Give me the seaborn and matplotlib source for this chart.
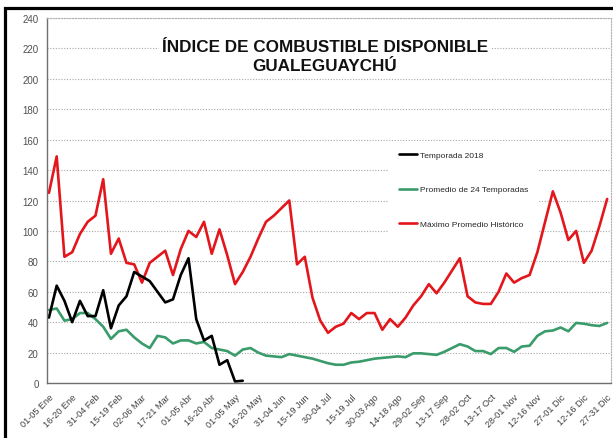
import numpy as np
import pandas as pd
import matplotlib
matplotlib.use("Agg")
import matplotlib.pyplot as plt
import seaborn as sns
from matplotlib.patches import Rectangle

tick_labels = ["01-05 Ene", "16-20 Ene", "31-04 Feb", "15-19 Feb", "02-06 Mar",
               "17-21 Mar", "01-05 Abr", "16-20 Abr", "01-05 May", "16-20 May",
               "31-04 Jun", "15-19 Jun", "30-04 Jul", "15-19 Jul", "30-03 Ago",
               "14-18 Ago", "29-02 Sep", "13-17 Sep", "28-02 Oct", "13-17 Oct",
               "28-01 Nov", "12-16 Nov", "27-01 Dic", "12-16 Dic", "27-31 Dic"]

maximo = [125, 149, 83, 86, 98, 106, 110, 134, 85, 95, 79, 78, 66, 79, 83, 87, 71, 88,
          100, 96, 106, 85, 101, 84, 65, 73, 83, 95, 106, 110, 115, 120, 78, 83, 56, 41,
          33, 37, 39, 46, 42, 46, 46, 35, 42, 37, 43, 51, 57, 65, 59, 66, 74, 82,
          57, 53, 52, 52, 60, 72, 66, 69, 71, 86, 106, 126, 112, 94, 100, 79, 87, 103, 121]

promedio = [48, 49, 41, 42, 46, 46, 42, 37, 29, 34, 35, 30, 26, 23, 31, 30, 26, 28,
            28, 26, 27, 23, 22, 21, 18, 22, 23, 20, 18, 17.5, 17, 19, 18, 17, 16, 14.5,
            13, 12, 12, 13.5, 14, 15, 16, 16.5, 17, 17.5, 17, 19.5, 19.5, 19, 18.5, 20.5, 23, 25.5,
            24, 21, 21, 19, 23, 23, 20.5, 24, 24.5, 31, 34, 34.5, 36.5, 34, 39.5, 39, 38, 37.5, 39.5]

temporada = [43, 64, 54, 40, 54, 44, 44, 61, 36, 51, 57, 73, 70, 67, 60, 53, 55, 71,
             82, 42, 28, 31, 12, 15, 1, 1.5]

series_names = ["Temporada 2018", "Promedio de 24 Temporadas", "Máximo Promedio Histórico"]
colors = {"Temporada 2018": "#000000",
          "Promedio de 24 Temporadas": "#3a9b6b",
          "Máximo Promedio Histórico": "#e3161c"}

n = len(maximo)
idx = np.arange(n)
temp_full = temporada + [np.nan] * (n - len(temporada))

sns.set_style("white")
plt.rcParams["font.family"] = ["Liberation Sans", "DejaVu Sans"]

fig = plt.figure(figsize=(6.13, 4.39), dpi=100)
ax = fig.add_axes([47 / 613, 1 - 384 / 439, 564 / 613, 365 / 439])

df_max = pd.DataFrame({"x": idx, "y": maximo})
df_prom = pd.DataFrame({"x": idx, "y": promedio})
df_temp = pd.DataFrame({"x": idx, "y": temp_full}).dropna()

sns.lineplot(data=df_max, x="x", y="y", color=colors[series_names[2]], linewidth=1.9,
             ax=ax, label=series_names[2])
sns.lineplot(data=df_prom, x="x", y="y", color=colors[series_names[1]], linewidth=1.9,
             ax=ax, label=series_names[1])
sns.lineplot(data=df_temp, x="x", y="y", color=colors[series_names[0]], linewidth=1.9,
             ax=ax, label=series_names[0])

ax.set_xlim(-0.25, n - 0.5)
ax.set_ylim(0, 240)
ax.set_yticks(range(0, 241, 20))
ax.set_xticks(range(0, n, 3))
ax.set_xticklabels(tick_labels, rotation=45, ha="right", rotation_mode="anchor",
                   fontsize=6.6, color="#404040")
ax.set_xticks(range(n), minor=True)
ax.tick_params(axis="y", labelsize=7, labelcolor="#505050", direction="out",
               length=3, color="#707070", width=0.8, pad=3)
ax.tick_params(axis="x", which="both", direction="out", length=3.5,
               color="#707070", width=0.8, pad=3)
ax.set_xlabel("")
ax.set_ylabel("")

ax.yaxis.grid(True, linestyle=(0, (1, 1.5)), color="#a8a8a8", linewidth=0.8)
ax.xaxis.grid(False)
for s in ["left", "bottom"]:
    ax.spines[s].set_color("#707070")
    ax.spines[s].set_linewidth(1.0)
for s in ["top", "right"]:
    ax.spines[s].set_color("#b0b0b0")
    ax.spines[s].set_linestyle((0, (1, 1.5)))
    ax.spines[s].set_linewidth(0.8)

handles, labels = ax.get_legend_handles_labels()
hmap = dict(zip(labels, handles))
leg = ax.legend([hmap[s] for s in series_names], series_names,
                loc="upper left", bbox_to_anchor=(0.599, 0.674),
                fontsize=6, labelspacing=3.2, handlelength=2.1, handletextpad=0.4,
                frameon=True, facecolor="white", edgecolor="none", framealpha=1,
                fancybox=False, borderpad=1.2)

fig.text(325 / 613, 1 - 57 / 439, "ÍNDICE DE COMBUSTIBLE DISPONIBLE\nGUALEGUAYCHÚ",
         ha="center", va="center", fontsize=12.3, fontweight="bold", linespacing=1.4,
         color="#111111",
         bbox=dict(facecolor="white", edgecolor="none", pad=2))

fig.patches.append(Rectangle((5 / 613, -0.05), 1.1, 1 - 8.5 / 439 + 0.05,
                             transform=fig.transFigure, fill=False,
                             edgecolor="black", linewidth=2.3))

fig.savefig("out.png", dpi=100)
